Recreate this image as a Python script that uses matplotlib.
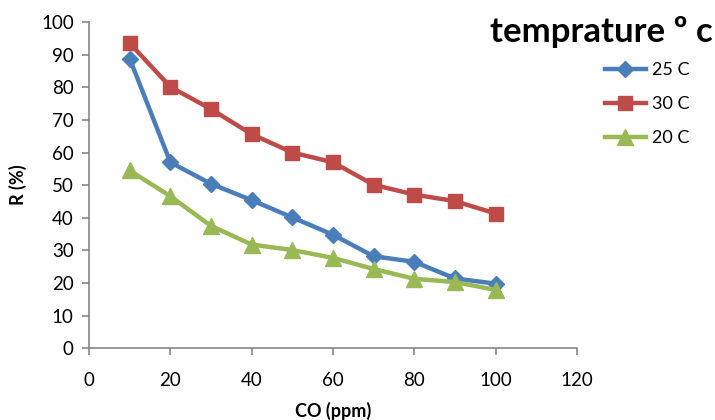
import matplotlib
matplotlib.use("Agg")
import matplotlib.pyplot as plt

co_ppm = [10, 20, 30, 40, 50, 60, 70, 80, 90, 100]
r_25 = [88.8, 57.0, 50.4, 45.4, 40.1, 34.8, 28.2, 26.5, 21.4, 19.8]
r_30 = [93.5, 80.1, 73.3, 65.6, 60.0, 57.0, 50.1, 47.1, 45.1, 41.3]
r_20 = [54.5, 46.6, 37.5, 31.8, 30.1, 27.7, 24.3, 21.3, 20.3, 17.9]
labels = ["25 C", "30 C", "20 C"]

plt.rcParams['font.family'] = ['Lato', 'DejaVu Sans']

fig = plt.figure(figsize=(7.15, 4.2), dpi=100)
ax = fig.add_axes([0.1245, 0.1707, 0.6825, 0.777])

ax.plot(co_ppm, r_25, color='#4A7EBB', lw=3.2, marker='D', ms=8, label=labels[0])
ax.plot(co_ppm, r_30, color='#BE4B48', lw=3.2, marker='s', ms=10, label=labels[1])
ax.plot(co_ppm, r_20, color='#98B954', lw=3.2, marker='^', ms=11, label=labels[2])

ax.set_xlim(0, 120)
ax.set_ylim(0, 100)
ax.set_xticks(range(0, 121, 20))
ax.set_yticks(range(0, 101, 10))
for s in ['top', 'right']:
    ax.spines[s].set_visible(False)
for s in ['left', 'bottom']:
    ax.spines[s].set_color('#868686')
    ax.spines[s].set_linewidth(1.2)
ax.tick_params(axis='both', direction='out', color='#868686', length=5, width=1.2,
               labelsize=13.5, labelcolor='black')
ax.tick_params(axis='x', pad=12)
ax.tick_params(axis='y', pad=6)

ax.set_xlabel('CO (ppm)', fontsize=13, fontweight='bold', labelpad=9)
ax.set_ylabel('R (%)', fontsize=13, fontweight='bold', labelpad=10)

fig.text(0.997, 0.925, 'temprature º c', ha='right', va='center', fontsize=25, fontweight='bold')

leg = fig.legend(loc='upper left', bbox_to_anchor=(0.823, 0.89), frameon=False,
                 fontsize=13, handlelength=2.3, labelspacing=0.98, handletextpad=0.3)

fig.savefig('out.png', dpi=100)
